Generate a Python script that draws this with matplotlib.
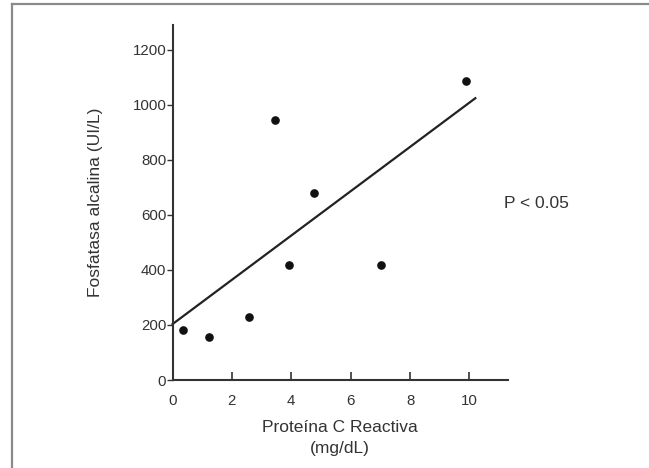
import matplotlib
matplotlib.use("Agg")
import matplotlib.pyplot as plt
from matplotlib.lines import Line2D

plt.rcParams['font.family'] = ['Liberation Sans', 'DejaVu Sans']

# --- données ---
pcr = [0.34, 1.24, 2.58, 3.45, 3.92, 4.77, 7.01, 9.88]          # mg/dL
fa = [182, 157, 230, 945, 418, 681, 418, 1087]                   # UI/L

# droite de régression (extrémités lues)
fit_x = [0.0, 10.2]
fit_y = [203, 1024]

x_ticks = [0, 2, 4, 6, 8, 10]
y_ticks = [0, 200, 400, 600, 800, 1000, 1200]

W, H = 649, 468
fig = plt.figure(figsize=(W / 100, H / 100), dpi=100)

# axes placés en pixels
x0, x1 = 172.5, 508
y0, y1 = 380, 25
ax = fig.add_axes([x0 / W, (H - y0) / H, (x1 - x0) / W, (y0 - y1) / H])

txt = '#333333'
ax.plot(pcr, fa, 'o', color='#111111', markersize=5.2, clip_on=False)
ax.plot(fit_x, fit_y, '-', color='#222222', linewidth=1.6, clip_on=False)

ax.set_xlim(0, 11.3)
ax.set_ylim(0, 1290)
ax.set_xticks(x_ticks)
ax.set_yticks(y_ticks)

for s in ['top', 'right']:
    ax.spines[s].set_visible(False)
for s in ['left', 'bottom']:
    ax.spines[s].set_linewidth(1.5)
    ax.spines[s].set_color('#333333')

ax.tick_params(axis='x', direction='in', length=5.5, width=1.2, pad=10,
               labelsize=10.8, colors='#333333', labelcolor=txt)
ax.tick_params(axis='y', direction='out', length=4, width=1.0, pad=0.5,
               labelsize=10.8, colors='#333333', labelcolor=txt)

ax.set_xlabel("Proteína C Reactiva\n(mg/dL)", fontsize=12.5, color=txt,
              labelpad=9, linespacing=1.45)
ax.set_ylabel("Fosfatasa alcalina (UI/L)", fontsize=12.5, color=txt,
              labelpad=21)

ax.text(11.16, 640, "P < 0.05", fontsize=12.5, color=txt,
        ha='left', va='center', clip_on=False)

# cadre gris (haut et gauche)
frame = '#8a8a8a'
fig.add_artist(Line2D([12 / W, 1], [1 - 4 / H, 1 - 4 / H], color=frame,
                      linewidth=1.6, transform=fig.transFigure))
fig.add_artist(Line2D([12 / W, 12 / W], [0, 1 - 4 / H], color=frame,
                      linewidth=1.6, transform=fig.transFigure))

fig.savefig("out.png", dpi=100)
